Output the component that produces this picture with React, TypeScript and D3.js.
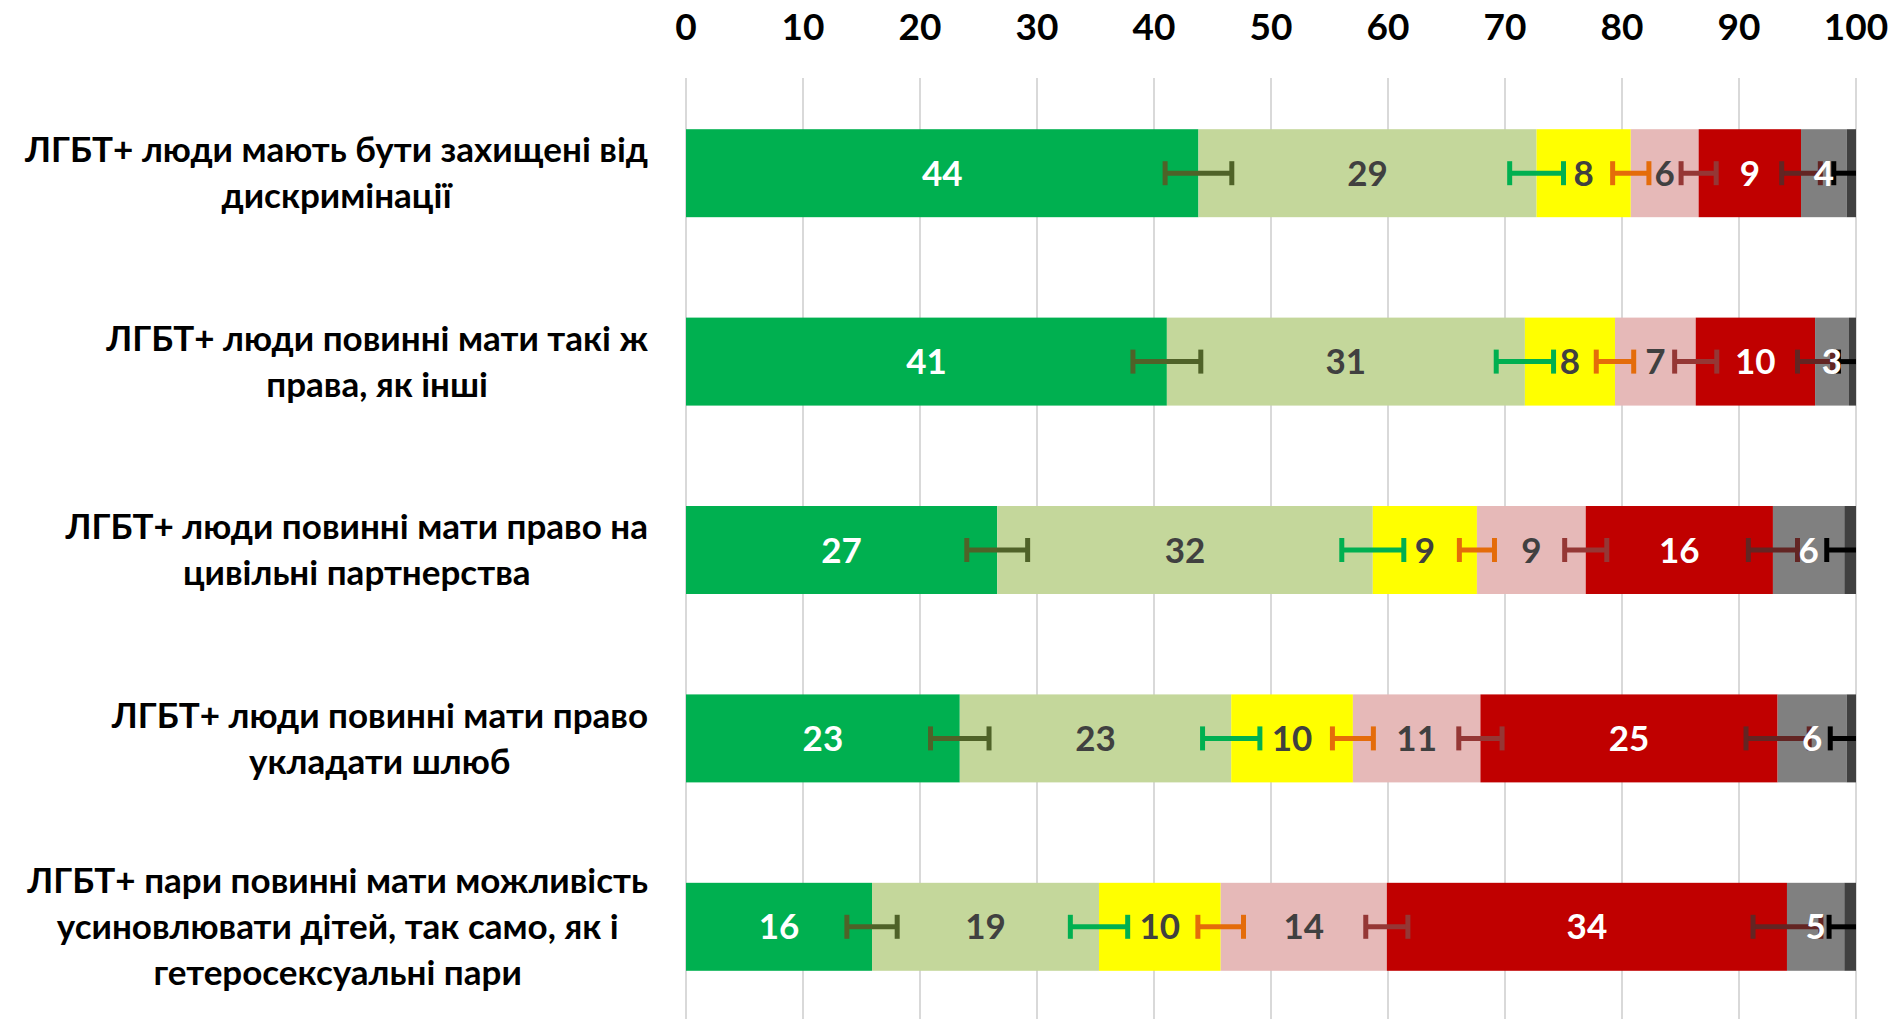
import React, { useRef, useEffect } from 'react';
import * as d3 from 'd3';

// categories, each already wrapped the way the original chart wraps them
const categories: string[][] = [
  ['ЛГБТ+ люди мають бути захищені від', 'дискримінації'],
  ['ЛГБТ+ люди повинні мати такі ж', 'права, як інші'],
  ['ЛГБТ+ люди повинні мати право на', 'цивільні партнерства'],
  ['ЛГБТ+ люди повинні мати право', 'укладати шлюб'],
  ['ЛГБТ+ пари повинні мати можливість', 'усиновлювати дітей, так само, як і', 'гетеросексуальні пари'],
];

// one array per answer, in stack order
const fullyAgree = [43.8, 41.1, 26.6, 23.4, 15.9];
const ratherAgree = [28.9, 30.6, 32.1, 23.2, 19.4];
const neutral = [8.05, 7.7, 8.9, 10.4, 10.4];
const ratherDisagree = [5.8, 6.9, 9.3, 10.9, 14.2];
const fullyDisagree = [8.75, 10.2, 16.0, 25.4, 34.2];
const hardToSay = [3.9, 2.9, 6.1, 5.9, 4.9];
const noAnswer = [0.8, 0.6, 1.0, 0.8, 1.0];

// margins of error drawn at the end of each segment
const errFullyAgree = [2.85, 2.9, 2.6, 2.5, 2.15];
const errRatherAgree = [2.3, 2.45, 2.65, 2.45, 2.45];
const errNeutral = [1.55, 1.6, 1.5, 1.75, 1.95];
const errRatherDisagree = [1.5, 1.8, 1.8, 1.85, 1.8];
const errFullyDisagree = [1.65, 1.5, 2.1, 2.7, 2.9];
const errHardToSay = [1.1, 0.9, 1.5, 1.4, 1.3];

const ticks = [0, 10, 20, 30, 40, 50, 60, 70, 80, 90, 100];

const series = [
  { key: 'fullyAgree', values: fullyAgree, err: errFullyAgree, fill: '#00b050', text: '#ffffff', errColor: '#4f6228' },
  { key: 'ratherAgree', values: ratherAgree, err: errRatherAgree, fill: '#c4d79b', text: '#404040', errColor: '#00b050' },
  { key: 'neutral', values: neutral, err: errNeutral, fill: '#ffff00', text: '#404040', errColor: '#e46c0a' },
  { key: 'ratherDisagree', values: ratherDisagree, err: errRatherDisagree, fill: '#e6b9b8', text: '#404040', errColor: '#953735' },
  { key: 'fullyDisagree', values: fullyDisagree, err: errFullyDisagree, fill: '#c00000', text: '#ffffff', errColor: '#632523' },
  { key: 'hardToSay', values: hardToSay, err: errHardToSay, fill: '#808080', text: '#ffffff', errColor: '#000000' },
  { key: 'noAnswer', values: noAnswer, err: null, fill: '#404040', text: null, errColor: null },
];

const FONT = "Lato, 'Noto Sans', sans-serif";

export default function App() {
  const ref = useRef<SVGSVGElement>(null);

  useEffect(() => {
    const svg = d3.select(ref.current);
    svg.selectAll('*').remove();

    const x = d3.scaleLinear().domain([0, 100]).range([686, 1856]);
    const y = d3
      .scaleBand<number>()
      .domain(d3.range(categories.length))
      .range([79, 1021])
      .paddingInner(0.533)
      .paddingOuter(0.2665);

    svg
      .append('defs')
      .append('clipPath')
      .attr('id', 'plot')
      .append('rect')
      .attr('x', x(0))
      .attr('y', 0)
      .attr('width', x(100) - x(0))
      .attr('height', 1019);

    // gridlines
    svg
      .append('g')
      .selectAll('line')
      .data(ticks)
      .join('line')
      .attr('x1', d => x(d))
      .attr('x2', d => x(d))
      .attr('y1', 78)
      .attr('y2', 1019)
      .attr('stroke', '#d9d9d9')
      .attr('stroke-width', 2);

    // tick labels on top
    svg
      .append('g')
      .selectAll('text')
      .data(ticks)
      .join('text')
      .attr('x', d => x(d))
      .attr('y', 27)
      .attr('dy', '0.36em')
      .attr('text-anchor', 'middle')
      .attr('font-family', FONT)
      .attr('font-weight', 'bold')
      .attr('font-size', 37)
      .attr('fill', '#000')
      .text(d => d);

    // category labels: lines centred in a block that is right-aligned
    const rightEdge = 648;
    const lineGap = 46;
    categories.forEach((lines, i) => {
      const cy = y(i)! + y.bandwidth() / 2;
      const g = svg.append('g');
      const texts = g
        .selectAll('text')
        .data(lines)
        .join('text')
        .attr('y', (d, j) => cy + (j - (lines.length - 1) / 2) * lineGap)
        .attr('dy', '0.35em')
        .attr('text-anchor', 'middle')
        .attr('font-family', FONT)
        .attr('font-weight', 'bold')
        .attr('font-size', 35)
        .attr('fill', '#000')
        .text(d => d);
      let w = 0;
      texts.each(function () {
        w = Math.max(w, (this as SVGTextElement).getComputedTextLength());
      });
      texts.attr('x', rightEdge - w / 2);
    });

    const rows = categories.map((_, i) => {
      const r: Record<string, number> = {};
      series.forEach(s => (r[s.key] = s.values[i]));
      return r;
    });
    const stacked = d3.stack<Record<string, number>>().keys(series.map(s => s.key))(rows);

    // bars
    stacked.forEach((layer, si) => {
      svg
        .append('g')
        .selectAll('rect')
        .data(layer)
        .join('rect')
        .attr('x', d => x(d[0]))
        .attr('width', d => x(d[1]) - x(d[0]))
        .attr('y', (d, i) => y(i)!)
        .attr('height', y.bandwidth())
        .attr('fill', series[si].fill);
    });

    // error bars
    const errG = svg.append('g').attr('clip-path', 'url(#plot)');
    stacked.forEach((layer, si) => {
      const s = series[si];
      if (!s.err) return;
      layer.forEach((d, i) => {
        const cy = y(i)! + y.bandwidth() / 2;
        const lo = x(d[1] - s.err![i]);
        const hi = x(d[1] + s.err![i]);
        const eg = errG.append('g').attr('stroke', s.errColor!).attr('stroke-width', 5);
        eg.append('line').attr('x1', lo).attr('x2', hi).attr('y1', cy).attr('y2', cy);
        [lo, hi].forEach(px =>
          eg.append('line').attr('x1', px).attr('x2', px).attr('y1', cy - 12).attr('y2', cy + 12)
        );
      });
    });

    // value labels
    stacked.forEach((layer, si) => {
      const s = series[si];
      if (!s.text) return;
      svg
        .append('g')
        .selectAll('text')
        .data(layer)
        .join('text')
        .attr('x', d => x((d[0] + d[1]) / 2))
        .attr('y', (d, i) => y(i)! + y.bandwidth() / 2)
        .attr('dy', '0.36em')
        .attr('text-anchor', 'middle')
        .attr('font-family', FONT)
        .attr('font-weight', 'bold')
        .attr('font-size', 35)
        .attr('fill', s.text)
        .text(d => Math.round(d[1] - d[0]));
    });
  }, []);

  return (
    <svg
      ref={ref}
      width={1893}
      height={1019}
      style={{ position: 'absolute', left: 0, top: 0, background: '#fff' }}
    />
  );
}
